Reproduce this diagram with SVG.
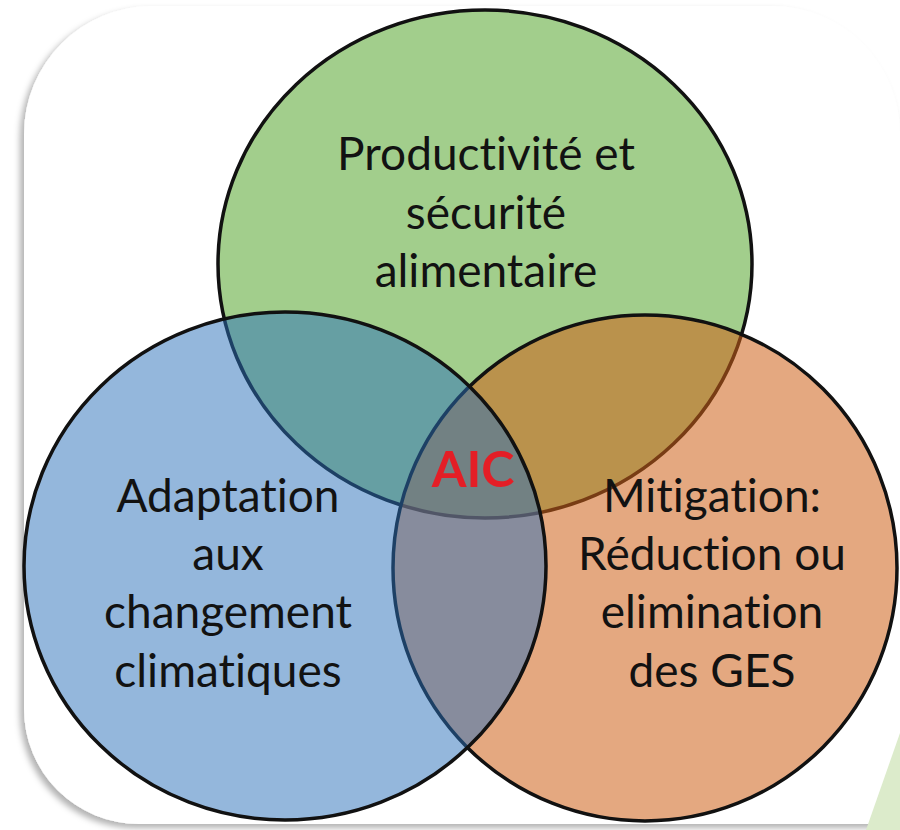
<svg xmlns="http://www.w3.org/2000/svg" width="900" height="830" viewBox="0 0 900 830">
  <defs>
    <filter id="shadow" x="-5%" y="-5%" width="110%" height="110%">
      <feDropShadow dx="-4" dy="4" stdDeviation="3" flood-color="#000" flood-opacity="0.3"/>
    </filter>
  </defs>
  <style>
    .ring { stroke: #111; stroke-width: 3.5; }
    .lbl { font-family: "Lato", "Liberation Sans", sans-serif; font-size: 46px; text-anchor: middle; fill: #121212; font-variant-ligatures: none; font-feature-settings: "liga" 0, "clig" 0; }
    .aic { font-family: "Lato", "Liberation Sans", sans-serif; font-size: 50px; font-weight: bold; text-anchor: middle; fill: #E41E26; }
  </style>
  <rect x="0" y="0" width="900" height="830" fill="#fff"/>
  <path id="panel" d="M152,6 H772 A128,128 0 0 1 900,134 V824 H139 A115,115 0 0 1 24,709 V134 A128,128 0 0 1 152,6 Z" fill="#fff" filter="url(#shadow)"/>
  <polygon points="866,830 900,733 900,830" fill="#DCEBCB"/>

  <g id="node-productivite">
    <ellipse class="ring" cx="485" cy="264" rx="267" ry="254" fill="#A2CE8C"/>
  </g>
  <g id="node-mitigation">
    <ellipse class="ring" cx="645" cy="568" rx="252" ry="253" fill="rgb(206,97,24)" fill-opacity="0.55"/>
  </g>
  <g id="node-adaptation">
    <ellipse class="ring" cx="285" cy="566" rx="261" ry="254" fill="rgb(41,111,185)" fill-opacity="0.5"/>
  </g>

  <g id="label-productivite">
    <text class="lbl" x="486" y="170">Productivité et</text>
    <text class="lbl" x="486" y="229">sécurité</text>
    <text class="lbl" x="486" y="287">alimentaire</text>
  </g>
  <g id="label-adaptation">
    <text class="lbl" x="228" y="512" fill="#0f1a2a">Adaptation</text>
    <text class="lbl" x="228" y="570" fill="#0f1a2a">aux</text>
    <text class="lbl" x="228" y="628" fill="#0f1a2a">changement</text>
    <text class="lbl" x="228" y="687" fill="#0f1a2a">climatiques</text>
  </g>
  <g id="label-mitigation">
    <text class="lbl" x="712" y="512">Mitigation:</text>
    <text class="lbl" x="712" y="570">Réduction ou</text>
    <text class="lbl" x="712" y="628">elimination</text>
    <text class="lbl" x="712" y="687">des GES</text>
  </g>
  <g id="node-aic">
    <text class="aic" x="473" y="487">AIC</text>
  </g>
</svg>
